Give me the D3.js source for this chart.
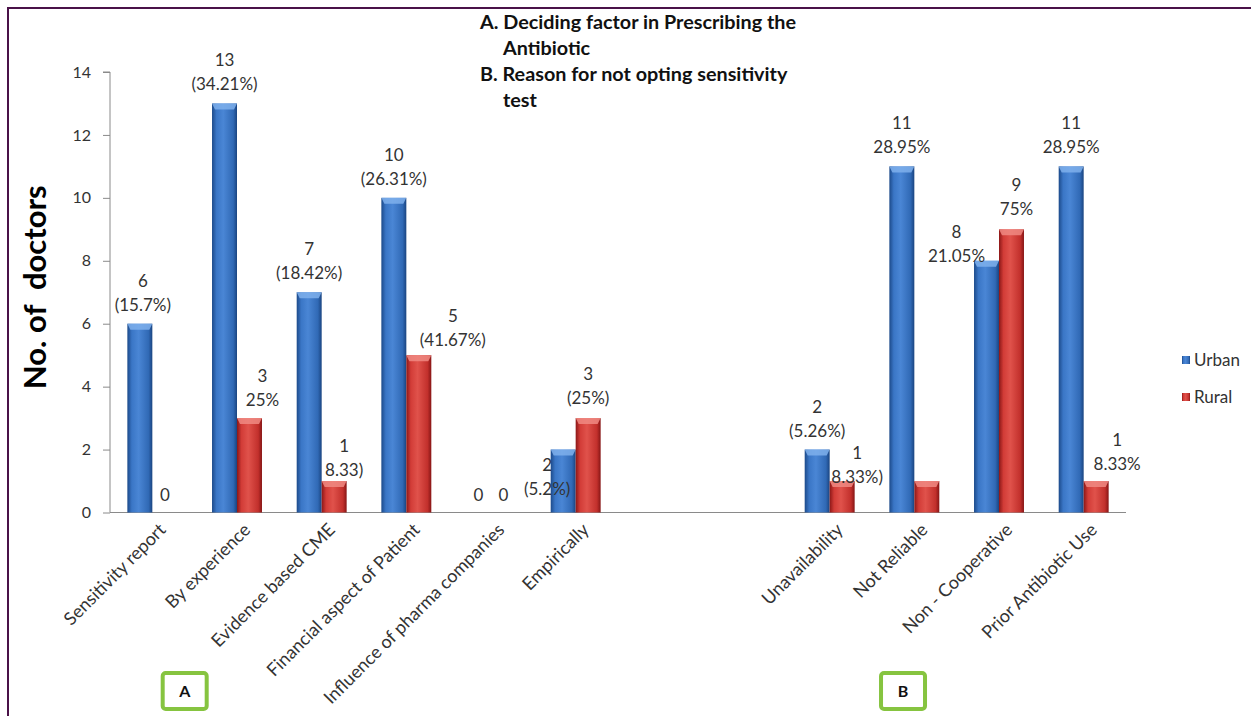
<!DOCTYPE html>
<html>
<head>
<meta charset="utf-8">
<script src="https://cdn.jsdelivr.net/npm/d3@7"></script>
<style>
  html, body { margin: 0; padding: 0; background: #fff; }
  svg { display: block; font-family: Lato, "Open Sans", sans-serif; }
</style>
</head>
<body>
<div id="chart"></div>
<script>
// Urban vs rural doctors: A = deciding factor, B = reason for not opting sensitivity test
const categories = [
  "Sensitivity report", "By experience", "Evidence based CME",
  "Financial aspect of Patient", "Influence of pharma companies", "Empirically",
  "gap1", "gap2",
  "Unavailability", "Not Reliable", "Non - Cooperative", "Prior Antibiotic Use"
];
const urban = [6, 13, 7, 10, 0, 2, null, null, 2, 11, 8, 11];
const rural = [0, 3, 1, 5, 0, 3, null, null, 1, 1, 9, 1];
const urbanPct = ["(15.7%)", "(34.21%)", "(18.42%)", "(26.31%)", "", "(5.2%)", "", "",
  "(5.26%)", "28.95%", "21.05%", "28.95%"];
const ruralPct = ["", "25%", "8.33)", "(41.67%)", "", "(25%)", "", "",
  "8.33%)", null, "75%", "8.33%"];
const seriesNames = ["Urban", "Rural"];
const yTicks = [0, 2, 4, 6, 8, 10, 12, 14];
const titleLines = [
  "A. Deciding factor in Prescribing the",
  "Antibiotic",
  "B. Reason for not opting sensitivity",
  "test"
];

const width = 1251, height = 716;
const margin = {left: 110, right: 125, top: 72, bottom: 203};

const svg = d3.select("#chart").append("svg")
  .attr("width", width)
  .attr("height", height);

svg.append("rect").attr("width", width).attr("height", height).attr("fill", "#fff");

// purple frame (only top and left edges are visible in the original crop)
svg.append("path")
  .attr("d", `M8,${height} L8,8 L${width},8`)
  .attr("fill", "none")
  .attr("stroke", "#4a1248")
  .attr("stroke-width", 2);

const x = d3.scaleBand()
  .domain(categories)
  .range([margin.left, width - margin.right])
  .paddingInner(0.41)
  .paddingOuter(0.205);

const sub = d3.scaleBand()
  .domain(seriesNames)
  .range([0, x.bandwidth()]);

const y = d3.scaleLinear()
  .domain([0, 14])
  .range([height - margin.bottom - 0.5, margin.top]);

// gradients for the bevelled bars
const defs = svg.append("defs");
const palettes = {
  Urban: {stops: ["#1c4a8a", "#3a76c6", "#4a86d5", "#3069b5", "#1a4480"], cap: "#7fb0ec"},
  Rural: {stops: ["#8c1717", "#d23c37", "#e0524b", "#c2302c", "#861515"], cap: "#f08a83"}
};
for (const name of seriesNames) {
  const g = defs.append("linearGradient").attr("id", "grad-" + name)
    .attr("x1", 0).attr("x2", 1).attr("y1", 0).attr("y2", 0);
  [0, 0.18, 0.45, 0.85, 1].forEach((o, i) =>
    g.append("stop").attr("offset", o).attr("stop-color", palettes[name].stops[i]));
}

// y axis
const yAxis = svg.append("g")
  .attr("transform", `translate(${margin.left},0)`)
  .call(d3.axisLeft(y).tickValues(yTicks).tickSize(7).tickPadding(12))
  .call(g => g.select(".domain").attr("stroke", "#8a8a8a").attr("d", `M-7,${y(14)}H0V${y(0)}`));
yAxis.selectAll(".tick line").attr("stroke", "#8a8a8a");
yAxis.selectAll(".tick text")
  .attr("font-size", 16).attr("fill", "#333")
  .attr("font-family", "Lato, sans-serif");

// x axis
const xAxis = svg.append("g")
  .attr("transform", `translate(0,${y(0)})`)
  .call(d3.axisBottom(x).tickSize(0).tickFormat(d => d.startsWith("gap") ? "" : d))
  .call(g => g.select(".domain").attr("stroke", "#8a8a8a")
    .attr("d", `M${margin.left},0H${width - margin.right}`));
xAxis.selectAll(".tick text")
  .attr("font-size", 18)
  .attr("fill", "#333")
  .attr("font-family", "Lato, sans-serif")
  .attr("text-anchor", "end")
  .attr("dy", "0.35em")
  .attr("y", 0)
  .attr("transform", "translate(10,14) rotate(-45)");

// bars
const rows = categories.map((c, i) => ({c, i, Urban: urban[i], Rural: rural[i]}));
const bars = [];
for (const r of rows) {
  for (const s of seriesNames) {
    if (r[s] === null) continue;
    bars.push({c: r.c, i: r.i, s, v: r[s]});
  }
}

const barG = svg.append("g");
const capH = 6;
barG.selectAll("g.bar")
  .data(bars.filter(d => d.v > 0))
  .join("g")
  .attr("class", "bar")
  .each(function(d) {
    const g = d3.select(this);
    const x0 = x(d.c) + sub(d.s), w = sub.bandwidth();
    const top = y(d.v), bottom = y(0);
    g.append("rect")
      .attr("x", x0).attr("y", top)
      .attr("width", w).attr("height", bottom - top)
      .attr("fill", `url(#grad-${d.s})`);
    g.append("path")
      .attr("d", `M${x0},${top}L${x0 + w},${top}L${x0 + w - 3},${top + capH}L${x0 + 3},${top + capH}Z`)
      .attr("fill", palettes[d.s].cap)
      .attr("opacity", 0.85);
  });

// data labels; most sit above their bar, some were nudged in the original
const nudge = {
  "Urban|Non - Cooperative": [-30, 14],
  "Urban|Empirically": [-16, 58],
  "Urban|Sensitivity report": [3, 0],
  "Rural|By experience": [13, 1],
  "Rural|Evidence based CME": [10, 8],
  "Rural|Financial aspect of Patient": [34, 4],
  "Rural|Unavailability": [15, 15],
  "Rural|Prior Antibiotic Use": [21, 2],
  "Rural|Non - Cooperative": [5, -1],
  "Rural|Empirically": [0, -1]
};
const labelG = svg.append("g")
  .attr("font-size", 17)
  .attr("fill", "#333")
  .attr("text-anchor", "middle");
for (const d of bars) {
  const pct = d.s === "Urban" ? urbanPct[d.i] : ruralPct[d.i];
  const cx = x(d.c) + sub(d.s) + sub.bandwidth() / 2;
  if (d.v === 0) {
    labelG.append("text").attr("x", cx).attr("y", y(0) - 12).text(d.v);
    continue;
  }
  if (pct === null) continue;
  const [dx, dy] = nudge[d.s + "|" + d.c] || [0, 0];
  const top = y(d.v);
  labelG.append("text").attr("x", cx + dx).attr("y", top - 37 + dy).text(d.v);
  labelG.append("text").attr("x", cx + dx).attr("y", top - 13 + dy).text(pct);
}

// y title
svg.append("text")
  .attr("transform", `translate(46,${(y(0) + y(14)) / 2 - 5}) rotate(-90)`)
  .attr("text-anchor", "middle")
  .attr("font-size", 31)
  .attr("font-weight", "bold")
  .attr("fill", "#000")
  .attr("xml:space", "preserve")
  .text("No. of  doctors");

// title block
svg.append("g")
  .attr("font-size", 19.8)
  .attr("font-weight", "bold")
  .attr("fill", "#111")
  .selectAll("text")
  .data(titleLines)
  .join("text")
  .attr("x", (d, i) => i % 2 === 0 ? 480 : 503)
  .attr("y", (d, i) => 29 + i * 26)
  .text(d => d);

// legend
const legend = svg.append("g")
  .attr("transform", "translate(1182,356)")
  .selectAll("g")
  .data(seriesNames)
  .join("g")
  .attr("transform", (d, i) => `translate(0,${i * 37})`);
legend.append("rect")
  .attr("width", 8).attr("height", 8)
  .attr("fill", d => `url(#grad-${d})`);
legend.append("text")
  .attr("x", 12).attr("y", 4)
  .attr("dy", "0.35em")
  .attr("font-size", 17)
  .attr("fill", "#333")
  .text(d => d);

// panel tags A and B
const tags = [{t: "A", c: "Evidence based CME", off: -112}, {t: "B", c: "Non - Cooperative", off: -71}];
const tagG = svg.append("g")
  .selectAll("g")
  .data(tags)
  .join("g")
  .attr("transform", d => `translate(${x(d.c) + d.off},691)`);
tagG.append("rect")
  .attr("x", -22).attr("y", -18)
  .attr("width", 44).attr("height", 36)
  .attr("rx", 3)
  .attr("fill", "#fff")
  .attr("stroke", "#86c440")
  .attr("stroke-width", 4);
tagG.append("text")
  .attr("text-anchor", "middle")
  .attr("dy", "0.35em")
  .attr("font-size", 16)
  .attr("font-weight", "bold")
  .attr("fill", "#111")
  .text(d => d.t);
</script>
</body>
</html>
